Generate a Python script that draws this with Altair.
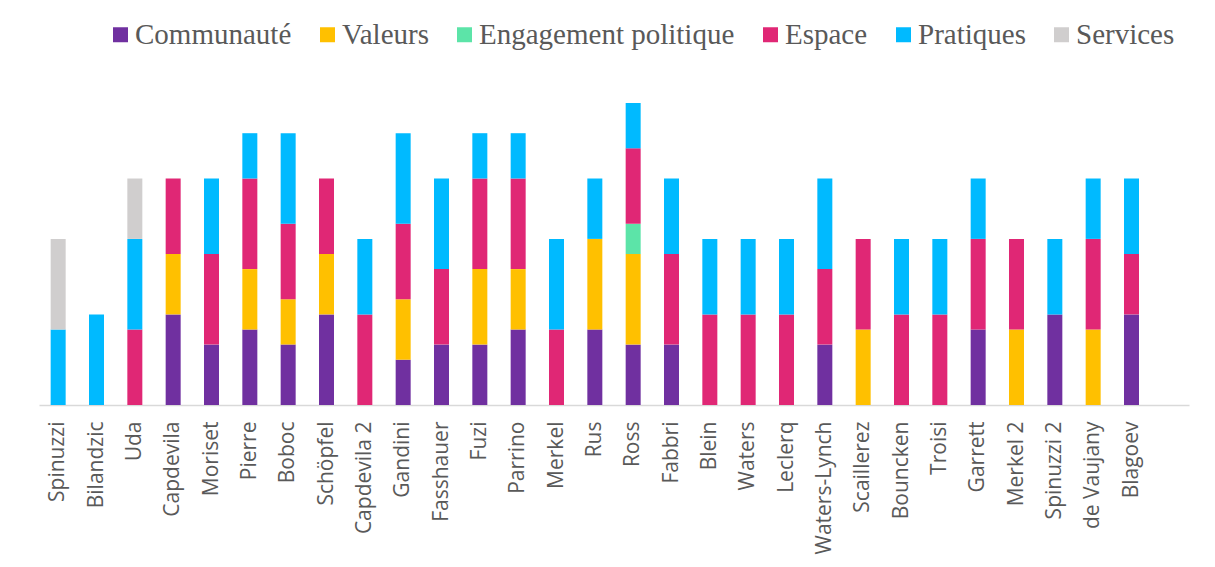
import altair as alt
import pandas as pd

auteurs = ["Spinuzzi", "Bilandzic", "Uda", "Capdevila", "Moriset", "Pierre", "Boboc",
           "Schöpfel", "Capdevila 2", "Gandini", "Fasshauer", "Fuzi", "Parrino", "Merkel",
           "Rus", "Ross", "Fabbri", "Blein", "Waters", "Leclerq", "Waters-Lynch",
           "Scaillerez", "Bouncken", "Troisi", "Garrett", "Merkel 2", "Spinuzzi 2",
           "de Vaujany", "Blagoev"]

categories = ["Communauté", "Valeurs", "Engagement politique", "Espace", "Pratiques", "Services"]
colors = ["#7030A0", "#FFC000", "#5CE4A8", "#E02775", "#00BAFF", "#D0CECE"]

communaute = [0, 0, 0, 6, 4, 5, 4, 6, 0, 3, 4, 4, 5, 0, 5, 4, 4, 0, 0, 0, 4, 0, 0, 0, 5, 0, 6, 0, 6]
valeurs    = [0, 0, 0, 4, 0, 4, 3, 4, 0, 4, 0, 5, 4, 0, 6, 6, 0, 0, 0, 0, 0, 5, 0, 0, 0, 5, 0, 5, 0]
engagement = [0, 0, 0, 0, 0, 0, 0, 0, 0, 0, 0, 0, 0, 0, 0, 2, 0, 0, 0, 0, 0, 0, 0, 0, 0, 0, 0, 0, 0]
espace     = [0, 0, 5, 5, 6, 6, 5, 5, 6, 5, 5, 6, 6, 5, 0, 5, 6, 6, 6, 6, 5, 6, 6, 6, 6, 6, 0, 6, 4]
pratiques  = [5, 6, 6, 0, 5, 3, 6, 0, 5, 6, 6, 3, 3, 6, 4, 3, 5, 5, 5, 5, 6, 0, 5, 5, 4, 0, 5, 4, 5]
services   = [6, 0, 4, 0, 0, 0, 0, 0, 0, 0, 0, 0, 0, 0, 0, 0, 0, 0, 0, 0, 0, 0, 0, 0, 0, 0, 0, 0, 0]

series = [communaute, valeurs, engagement, espace, pratiques, services]

rows = []
for ci, (cat, vals) in enumerate(zip(categories, series)):
    for a, v in zip(auteurs, vals):
        if v:
            rows.append({"auteur": a, "categorie": cat, "valeur": v, "ordre": ci})
df = pd.DataFrame(rows)

chart = alt.Chart(df).mark_bar(size=15).encode(
    x=alt.X("auteur:N", sort=auteurs,
            scale=alt.Scale(domain=auteurs, paddingInner=0, paddingOuter=0.5, align=0),
            axis=alt.Axis(title=None, labelAngle=-90, labelAlign="right", labelBaseline="middle",
                          labelFont="Open Sans", labelFontSize=21, labelColor="#595959",
                          labelPadding=16, ticks=False, domainColor="#D9D9D9",
                          domainWidth=1.5, grid=False, labelLimit=0)),
    y=alt.Y("valeur:Q", stack="zero", scale=alt.Scale(domain=[0, 20], nice=False),
            axis=None),
    color=alt.Color("categorie:N", scale=alt.Scale(domain=categories, range=colors),
                    legend=alt.Legend(title=None, orient="none", direction="horizontal",
                                      legendX=67, legendY=-83, symbolType="square",
                                      symbolSize=225, symbolStrokeWidth=0, labelOffset=0,
                                      labelFont="Liberation Serif", labelFontSize=29,
                                      labelColor="#595959", columnPadding=21, padding=0,
                                      labelLimit=0)),
    order=alt.Order("ordre:Q", sort="ascending"),
).properties(
    width=1150, height=302,
    padding={"left": 31, "top": 12, "right": 5, "bottom": 5},
).configure_view(stroke=None)

chart.save("out.html", embed_options={"renderer": "svg", "actions": False})
